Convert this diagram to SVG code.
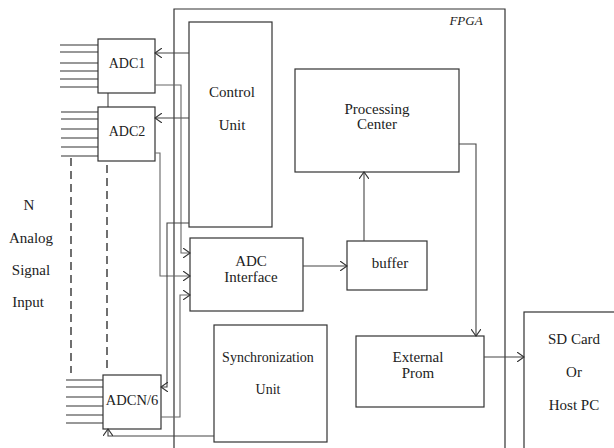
<svg xmlns="http://www.w3.org/2000/svg" width="614" height="448" viewBox="0 0 614 448">
<defs>
<style>
.box{fill:#fff;stroke:#333;stroke-width:1.2}
.ln{fill:none;stroke:#444;stroke-width:1.1}
.lt{fill:none;stroke:#666;stroke-width:1.1}
.in{stroke:#333;stroke-width:1.1}
.dash{fill:none;stroke:#111;stroke-width:1.2;stroke-dasharray:8 5}
</style>
<marker id="ar" markerWidth="8" markerHeight="10" refX="7" refY="5" orient="auto" markerUnits="userSpaceOnUse">
<path d="M0,0 L7,5 L0,10" fill="none" stroke="#333" stroke-width="1.1"/>
</marker>
</defs>
<rect width="614" height="448" fill="#fff"/>

<g id="fpga">
<path class="box" d="M174,460 L174,9 L505,9 L505,460" fill="none"/>
<text x="466" y="25" font-family="Liberation Serif" font-size="13" font-style="italic" fill="#222" text-anchor="middle">FPGA</text>
</g>

<g id="inputs">
<line class="in" x1="60" y1="45" x2="98" y2="45"/>
<line class="in" x1="60" y1="52" x2="98" y2="52"/>
<line class="in" x1="60" y1="63" x2="98" y2="63"/>
<line class="in" x1="60" y1="71" x2="98" y2="71"/>
<line class="in" x1="60" y1="79" x2="98" y2="79"/>
<line class="in" x1="60" y1="87" x2="98" y2="87"/>
<line class="in" x1="61" y1="112" x2="98" y2="112"/>
<line class="in" x1="61" y1="119" x2="98" y2="119"/>
<line class="in" x1="61" y1="129" x2="98" y2="129"/>
<line class="in" x1="61" y1="138" x2="98" y2="138"/>
<line class="in" x1="61" y1="147" x2="98" y2="147"/>
<line class="in" x1="61" y1="156" x2="98" y2="156"/>
<line class="in" x1="66" y1="380" x2="103" y2="380"/>
<line class="in" x1="66" y1="387" x2="103" y2="387"/>
<line class="in" x1="66" y1="397" x2="103" y2="397"/>
<line class="in" x1="66" y1="406" x2="103" y2="406"/>
<line class="in" x1="66" y1="415" x2="103" y2="415"/>
<line class="in" x1="66" y1="423" x2="103" y2="423"/>
<line class="dash" x1="71" y1="158" x2="71" y2="373"/>
<line class="dash" x1="107" y1="165" x2="107" y2="373"/>
<line class="ln" x1="108" y1="93" x2="108" y2="107"/>
</g>

<g id="label" font-family="Liberation Serif" font-size="15" fill="#222" text-anchor="middle">
<text x="29" y="210">N</text>
<text x="31" y="243">Analog</text>
<text x="31" y="275">Signal</text>
<text x="28" y="307">Input</text>
</g>

<g id="adc1">
<rect class="box" x="98" y="39" width="57" height="54"/>
<text x="127" y="68" font-family="Liberation Serif" font-size="14" fill="#222" text-anchor="middle">ADC1</text>
</g>
<g id="adc2">
<rect class="box" x="98" y="107" width="57" height="54"/>
<text x="127" y="136" font-family="Liberation Serif" font-size="14" fill="#222" text-anchor="middle">ADC2</text>
</g>
<g id="adcn">
<rect class="box" x="103" y="375" width="58" height="54"/>
<text x="132" y="405" font-family="Liberation Serif" font-size="14.5" fill="#222" text-anchor="middle">ADCN/6</text>
</g>

<g id="control" font-family="Liberation Serif" font-size="15" fill="#222" text-anchor="middle">
<rect class="box" x="189" y="22" width="83" height="205"/>
<text x="232" y="97">Control</text>
<text x="232" y="130">Unit</text>
</g>

<g id="adcif" font-family="Liberation Serif" font-size="15" fill="#222" text-anchor="middle">
<rect class="box" x="190" y="238" width="113" height="73"/>
<text x="251" y="266">ADC</text>
<text x="251" y="282">Interface</text>
</g>

<g id="sync" font-family="Liberation Serif" font-size="14" fill="#222" text-anchor="middle">
<rect class="box" x="214" y="325" width="113" height="117"/>
<text x="268" y="362">Synchronization</text>
<text x="268" y="394">Unit</text>
</g>

<g id="buffer" font-family="Liberation Serif" font-size="15" fill="#222" text-anchor="middle">
<rect class="box" x="347" y="241" width="80" height="49"/>
<text x="390" y="268">buffer</text>
</g>

<g id="proc" font-family="Liberation Serif" font-size="15" fill="#222" text-anchor="middle">
<rect class="box" x="295" y="69" width="164" height="103"/>
<text x="377" y="114">Processing</text>
<text x="377" y="129">Center</text>
</g>

<g id="prom" font-family="Liberation Serif" font-size="15" fill="#222" text-anchor="middle">
<rect class="box" x="356" y="336" width="128" height="71"/>
<text x="418" y="362">External</text>
<text x="418" y="378">Prom</text>
</g>

<g id="sd" font-family="Liberation Serif" font-size="15" fill="#222" text-anchor="middle">
<rect class="box" x="524" y="312" width="100" height="150"/>
<text x="574" y="344">SD Card</text>
<text x="574" y="377">Or</text>
<text x="574" y="410">Host PC</text>
</g>

<g id="connectors">
<line class="ln" x1="189" y1="53" x2="155" y2="53" marker-end="url(#ar)"/>
<line class="ln" x1="189" y1="118" x2="155" y2="118" marker-end="url(#ar)"/>
<polyline class="lt" points="155,85 181,85 181,253 190,253" marker-end="url(#ar)"/>
<polyline class="lt" points="155,153 160,153 160,276 190,276" marker-end="url(#ar)"/>
<polyline class="lt" points="161,417 180,417 180,295 190,295" marker-end="url(#ar)"/>
<polyline class="ln" points="189,223 167,223 167,387 161,387" marker-end="url(#ar)"/>
<polyline class="ln" points="214,436 108,436 108,429" marker-end="url(#ar)"/>
<line class="ln" x1="303" y1="266" x2="347" y2="266" marker-end="url(#ar)"/>
<line class="ln" x1="364" y1="241" x2="364" y2="172" marker-end="url(#ar)"/>
<polyline class="ln" points="459,144 476,144 476,336" marker-end="url(#ar)"/>
<line class="ln" x1="484" y1="357" x2="524" y2="357" marker-end="url(#ar)"/>
</g>
</svg>
